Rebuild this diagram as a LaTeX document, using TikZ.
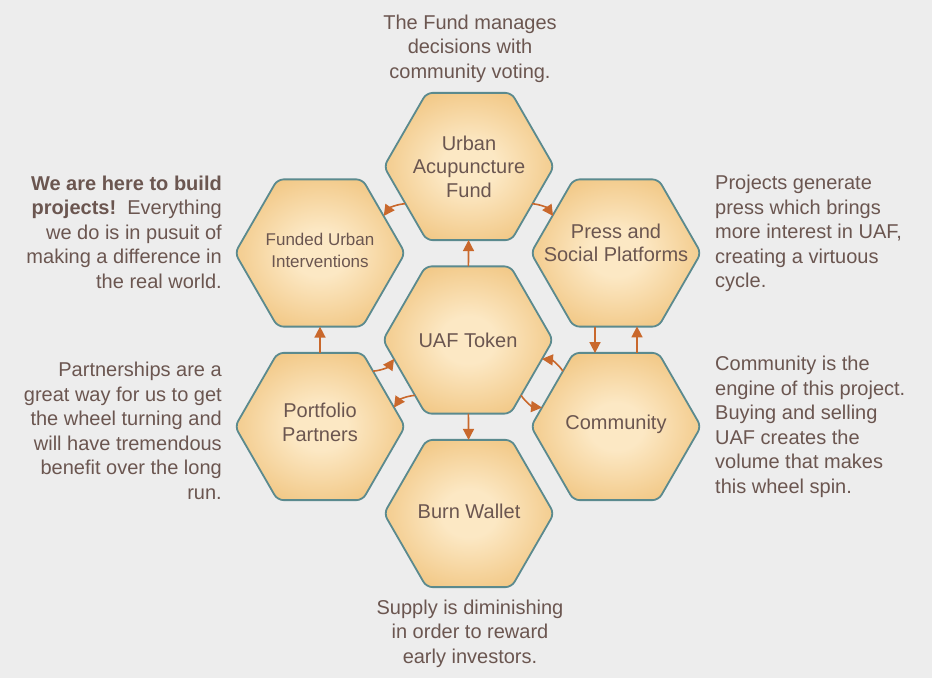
\documentclass[tikz,border=0pt]{standalone}
\usepackage{fontspec}
\setmainfont{Liberation Sans}
\usetikzlibrary{shapes.geometric,calc,arrows.meta}
\definecolor{bg}{HTML}{EDEDED}
\definecolor{txt}{HTML}{6B5650}
\definecolor{hexedge}{HTML}{5B8A8E}
\definecolor{arr}{HTML}{C9682C}
\definecolor{hexin}{HTML}{FCE8C4}
\definecolor{hexout}{HTML}{E9AD52}
\pgfdeclareradialshading{hexshade}{\pgfpoint{0bp}{0bp}}{color(0bp)=(hexin); color(8bp)=(hexin); color(44bp)=(hexout); color(70bp)=(hexout)}
\begin{document}
\begin{tikzpicture}[x=1pt,y=-1pt,
  hexa/.style={regular polygon, regular polygon sides=6, minimum size=170pt, inner sep=0pt, outer sep=0pt, draw=hexedge, line width=1.8pt, shading=hexshade, rounded corners=6pt},
  hextext/.style={text=txt, align=center, font=\fontsize{20}{23.5}\selectfont, inner sep=0pt},
  smalltext/.style={text=txt, align=center, font=\fontsize{17}{22}\selectfont, inner sep=0pt},
  note/.style={text=txt, font=\fontsize{20}{24.5}\selectfont, inner sep=0pt},
  flow/.style={draw=arr, line width=1.6pt, -{Triangle[length=11pt,width=11pt]}}
]
\useasboundingbox (0,0) rectangle (932,678);
\fill[bg] (0,0) rectangle (932,678);

% hexagons
\node[hexa] (T)  at (468,340)   {};
\node[hexa] (F)  at (469,166.5) {};
\node[hexa] (B)  at (469,513.5) {};
\node[hexa] (P)  at (616,253)   {};
\node[hexa] (C)  at (616,426.5) {};
\node[hexa] (FU) at (320,253)   {};
\node[hexa] (PP) at (320,426.5) {};

% hexagon labels
\node[hextext] (Tt)  at (T)  {UAF Token};
\node[hextext] (Ft)  at (F)  {Urban\\Acupuncture\\Fund};
\node[hextext] (Bt)  at ($(B)+(0,-2)$)  {Burn Wallet};
\node[hextext] (Pt)  at ($(P)+(0,-10)$)  {Press and\\Social Platforms};
\node[hextext] (Ct)  at ($(C)+(0,-2)$)  {Community};
\node[smalltext] (FUt) at ($(FU)+(0,-3)$) {Funded Urban\\Interventions};
\node[hextext] (PPt) at ($(PP)+(0,-4)$) {Portfolio\\Partners};

% connectors
\draw[flow] (T) -- (F);
\draw[flow] (T) -- (B);
\draw[flow] (PP) -- (FU);
\draw[flow] ($(F)!0.43!(FU)$) to[bend right=25] ($(F)!0.572!(FU)$);
\draw[flow] ($(F)!0.43!(P)$) to[bend left=25] ($(F)!0.572!(P)$);
\draw[flow] ($(P)!0.424!(C)!-21pt!90:(C)$) -- ($(P)!0.577!(C)!-21pt!90:(C)$);
\draw[flow] ($(C)!0.424!(P)!-21pt!90:(P)$) -- ($(C)!0.577!(P)!-21pt!90:(P)$);
\draw[flow] ($(C)!0.43!(T)!-21pt!90:(T)$) to[bend right=25] ($(C)!0.572!(T)!-21pt!90:(T)$);
\draw[flow] ($(T)!0.43!(C)!-21pt!90:(C)$) to[bend right=25] ($(T)!0.572!(C)!-21pt!90:(C)$);
\draw[flow] ($(PP)!0.43!(T)!21pt!90:(T)$) to[bend right=25] ($(PP)!0.572!(T)!21pt!90:(T)$);
\draw[flow] ($(T)!0.43!(PP)!21pt!90:(PP)$) to[bend right=25] ($(T)!0.572!(PP)!21pt!90:(PP)$);

% notes
\node[note, align=center] (n1) at (470,48.5) {The Fund manages\\decisions with\\community voting.};
\node[note, align=center] (n2) at (470,633.5) {Supply is diminishing\\in order to reward\\early investors.};
\node[note, align=right, anchor=east] (n3) at (222,232) {\textbf{We are here to build}\\\textbf{projects!}\ \ Everything\\we do is in pusuit of\\making a difference in\\the real world.};
\node[note, align=right, anchor=east] (n4) at (222,431) {Partnerships are a\\great way for us to get\\the wheel turning and\\will have tremendous\\benefit over the long\\run.};
\node[note, align=left, anchor=west] (n5) at (715,233.5) {Projects generate\\press which brings\\more interest in UAF,\\creating a virtuous\\cycle.};
\node[note, align=left, anchor=west] (n6) at (715,427) {Community is the\\engine of this project.\\Buying and selling\\UAF creates the\\volume that makes\\this wheel spin.};
\end{tikzpicture}
\end{document}
